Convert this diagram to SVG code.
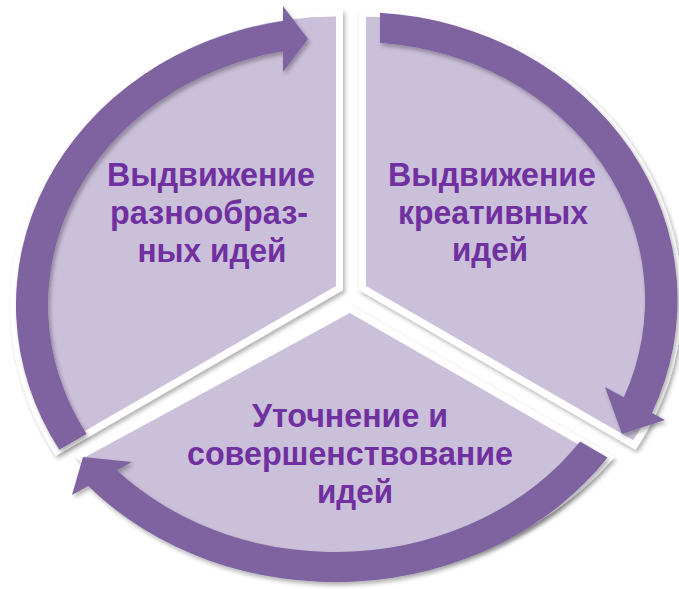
<svg xmlns="http://www.w3.org/2000/svg" width="679" height="589" viewBox="0 0 679 589">
  <defs>
    <filter id="shade" x="-10%" y="-10%" width="120%" height="120%">
      <feDropShadow dx="2" dy="3" stdDeviation="2.2" flood-color="#000" flood-opacity="0.3"/>
    </filter>
    <style>
      .sector { fill: #CBC0DA; stroke: #FFFFFF; stroke-width: 7; stroke-linejoin: miter; filter: url(#shade); }
      .arrow { fill: #7F63A1; filter: url(#shade); }
      .label { font-family: "Liberation Sans", Arial, sans-serif; font-weight: 700; font-size: 33px; fill: #7030A0; text-anchor: middle; }
    </style>
  </defs>
  <rect width="679" height="589" fill="#FFFFFF"/>

  <!-- upper-left segment -->
  <g id="node-generate-diverse">
    <path class="sector" d="M339.5,288 L339.5,13 A321,292 0 0 0 57,451 Z"/>
    <text class="label" x="211" y="186" textLength="208" lengthAdjust="spacingAndGlyphs">Выдвижение</text>
    <text class="label" x="209" y="224" textLength="198" lengthAdjust="spacingAndGlyphs">разнообраз-</text>
    <text class="label" x="212" y="262" textLength="149" lengthAdjust="spacingAndGlyphs">ных идей</text>
  </g>

  <!-- upper-right segment -->
  <g id="node-generate-creative">
    <path class="sector" d="M362.5,288 L634.5,445 A321,287 0 0 0 362.5,13 Z"/>
    <text class="label" x="492" y="186" textLength="208" lengthAdjust="spacingAndGlyphs">Выдвижение</text>
    <text class="label" x="493" y="223.5" textLength="190" lengthAdjust="spacingAndGlyphs">креативных</text>
    <text class="label" x="490" y="261" textLength="76" lengthAdjust="spacingAndGlyphs">идей</text>
  </g>

  <!-- bottom segment -->
  <g id="node-refine">
    <path class="sector" d="M350,309 L609,458 A332,288 0 0 1 80,456 Z"/>
    <text class="label" x="350" y="427" textLength="196" lengthAdjust="spacingAndGlyphs">Уточнение и</text>
    <text class="label" x="350" y="465" textLength="326" lengthAdjust="spacingAndGlyphs">совершенствование</text>
    <text class="label" x="355" y="503" textLength="76" lengthAdjust="spacingAndGlyphs">идей</text>
  </g>

  <!-- cycle arrows running clockwise along the rim -->
  <g id="connectors">
    <path class="arrow" d="M86.6,434 L59.3,449.8 A319.5,288 0 0 1 283,20.9 L283,6 L308,39 L283,72 L283,51.3 A287.5,258 0 0 0 86.6,434 Z"/>
    <path class="arrow" d="M380,42.8 L380,12.7 A319.5,288 0 0 1 652,412.9 L665,420 L622,434 L605,387 L623.8,397.3 A287.5,258 0 0 0 380,42.8 Z"/>
    <path class="arrow" d="M580.1,441.6 L607.5,457.4 A330,286 0 0 1 88.2,486.1 L72,495 L83,457 L132,462 L116.8,470.3 A298,256 0 0 0 580.1,441.6 Z"/>
  </g>
</svg>
